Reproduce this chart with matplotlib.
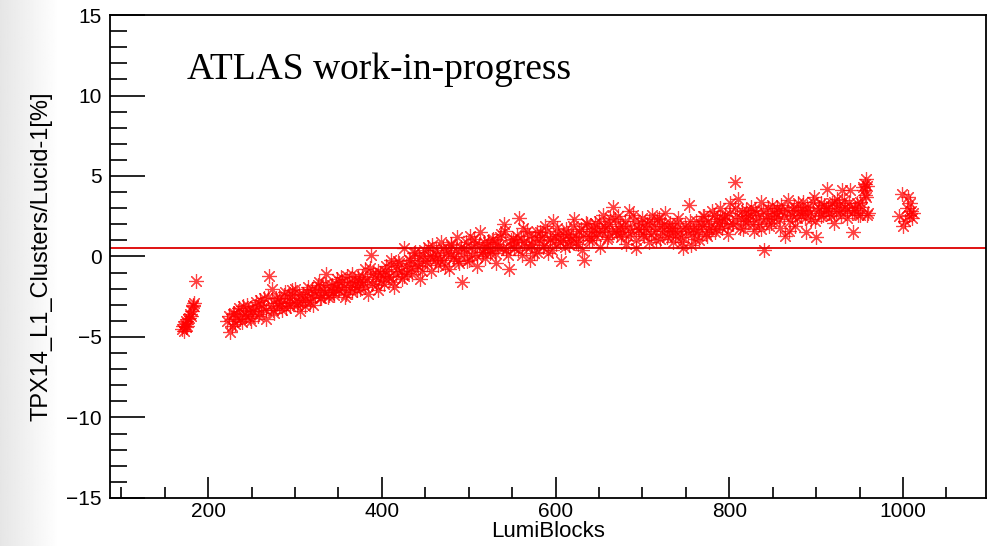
import numpy as np
import matplotlib
matplotlib.use("Agg")
import matplotlib.pyplot as plt
from matplotlib.ticker import MultipleLocator

plt.rcParams['font.family'] = ['Liberation Sans', 'DejaVu Sans']

# early fill, first lumiblocks
lb_early = [170, 171, 172, 173, 174, 175, 176, 177, 178, 179, 180, 181, 182, 183, 184, 186]
ratio_early = [-4.5, -4.3, -4.6, -4.2, -4.4, -4.0, -4.3, -3.9, -3.8, -3.6,
               -3.7, -3.4, -3.0, -3.1, -2.9, -1.5]

# main run, lumiblocks 222, 225, ... 960
lb_main = np.arange(222, 961, 3)
ratio_main = [
    -4.0, -4.7, -3.6, -4.2, -3.4, -3.9, -3.1, -3.7, -3.3, -4.0,
    -3.4, -2.8, -3.6, -3.0, -2.6, -3.3, -1.2, -2.0, -3.5, -2.9,
    -2.6, -3.3, -2.2, -2.9, -3.1, -2.4, -2.0, -2.8, -3.4, -2.3,
    -2.7, -1.9, -2.5, -3.0, -2.1, -1.6, -2.6, -2.2, -1.1, -2.4,
    -1.8, -2.4, -1.4, -2.1, -1.6, -2.5, -1.2, -1.9, -2.2, -1.5,
    -1.3, -2.0, -1.6, -0.8, -2.3, 0.1, -1.1, -1.8, -0.9, -1.5,
    -1.7, -0.6, -1.2, -0.2, -1.9, -0.8, -0.4, -1.4, 0.5, -1.0,
    -0.2, -1.1, 0.3, -0.6, -1.4, 0.1, -0.3, 0.6, -0.9, 0.0,
    0.4, -0.5, 0.9, -0.2, 0.2, -0.8, 0.7, 0.0, 1.2, -0.4,
    -1.6, 0.5, -0.3, 1.3, 0.1, 0.8, -0.6, 1.5, 0.3, -0.1,
    0.9, 0.2, 1.1, -0.4, 0.6, 1.4, 2.0, 0.4, -0.8, 1.0,
    0.5, 1.3, 2.4, 0.1, 0.9, 1.6, -0.2, 0.7, 1.2, 0.3,
    1.5, 0.6, 1.9, 0.2, 1.1, 2.2, 0.8, 1.4, -0.3, 1.0,
    1.7, 0.7, 1.2, 2.3, 0.9, 1.6, 0.4, -0.2, 2.0, 1.3,
    1.0, 2.1, 1.5, 0.6, 2.6, 1.8, 1.2, 2.4, 3.1, 1.6,
    2.5, 1.2, 1.9, 0.8, 2.8, 1.5, 2.2, 0.5, 1.7, 2.4,
    1.3, 2.0, 0.9, 2.6, 1.6, 2.3, 1.1, 1.9, 2.7, 1.4,
    2.1, 0.9, 1.6, 2.4, 1.2, 0.5, 1.8, 3.2, 0.7, 1.5,
    2.2, 1.0, 1.9, 2.5, 1.3, 1.7, 2.8, 1.5, 2.3, 3.0,
    1.8, 2.6, 1.4, 3.3, 2.0, 4.6, 3.6, 2.4, 1.7, 2.9,
    2.2, 3.1, 1.6, 2.7, 2.0, 3.4, 0.4, 2.5, 1.9, 3.2,
    2.4, 3.0, 1.8, 2.8, 1.3, 3.5, 2.2, 2.9, 1.9, 3.3,
    2.6, 3.4, 1.5, 2.9, 2.3, 3.7, 1.2, 3.0, 2.5, 3.2,
    4.2, 2.7, 3.3, 2.1, 3.6, 2.8, 4.1, 3.1, 2.4, 4.1,
    1.5, 3.0, 2.6, 3.4, 4.3, 4.8, 2.7,
]

# main run, lumiblocks 224, 227, ... 959
lb_main2 = np.arange(224, 960, 3)
ratio_main2 = [
    -3.7, -4.3, -3.5, -3.9, -3.2, -4.1, -3.6, -3.0, -3.8, -3.4,
    -3.1, -3.7, -2.7, -3.2, -3.9, -2.5, -3.0, -3.3, -2.6, -3.1,
    -2.9, -2.4, -3.2, -2.6, -2.1, -2.8, -3.0, -2.3, -2.7, -3.1,
    -2.2, -2.8, -2.0, -2.4, -1.8, -2.6, -2.1, -1.7, -2.5, -1.9,
    -2.2, -1.7, -2.0, -1.3, -1.9, -2.3, -1.6, -1.1, -1.8, -2.1,
    -1.6, -1.2, -1.9, -1.4, -0.7, -1.7, -1.3, -2.1, -1.0, -1.2,
    -0.9, -1.3, -0.5, -1.6, -1.1, -0.3, -0.9, -1.2, -0.6, -0.2,
    -0.7, 0.2, -0.5, -0.1, -0.9, 0.4, -0.4, 0.0, 0.7, -0.2,
    0.1, -0.2, 0.5, -0.6, 0.3, 0.8, -0.1, 0.4, -0.3, 0.6,
    0.2, 0.9, -0.2, 0.5, 1.1, 0.0, 0.7, 0.3, 0.9, 0.6,
    0.4, 1.0, 0.2, 0.8, 1.2, 0.5, 1.6, 0.1, 0.7, 1.1,
    0.9, 0.4, 1.1, 1.8, 0.6, 1.3, 0.8, 0.2, 1.5, 1.0,
    1.2, 0.7, 1.6, 1.0, 0.4, 1.3, 1.8, 0.9, 1.4, 0.6,
    1.4, 1.0, 1.9, 1.2, 0.8, 1.7, 1.3, 2.1, 1.0, 1.6,
    1.8, 1.3, 2.2, 1.5, 1.9, 1.1, 2.0, 1.6, 2.3, 1.4,
    1.9, 1.5, 2.2, 1.3, 1.8, 2.6, 1.0, 1.7, 2.1, 1.4,
    1.7, 2.2, 1.4, 1.9, 1.0, 2.4, 1.6, 2.0, 1.2, 1.8,
    1.8, 1.3, 2.1, 1.6, 0.9, 1.9, 1.4, 2.2, 1.7, 1.1,
    1.6, 2.0, 2.5, 1.4, 2.2, 1.9, 2.6, 1.7, 2.1, 2.4,
    2.3, 1.9, 2.7, 2.1, 3.0, 2.5, 1.8, 2.8, 2.2, 2.6,
    2.6, 2.0, 2.9, 2.4, 1.7, 2.8, 2.3, 3.0, 2.1, 2.7,
    2.7, 2.3, 3.2, 2.5, 2.9, 1.6, 2.6, 3.1, 2.4, 2.8,
    2.9, 2.4, 3.1, 2.7, 3.4, 2.2, 2.8, 3.3, 2.6, 3.0,
    3.0, 2.5, 3.4, 2.8, 3.2, 2.6, 3.5, 2.9, 3.3, 2.7,
    2.9, 3.3, 2.6, 3.1, 3.8, 2.6,
]

# end-of-run spike
lb_spike = [955, 956, 957, 958]
ratio_spike = [4.1, 4.5, 3.7, 4.4]

# second short block after the gap
lb_late = [995, 999, 1000, 1002, 1004, 1006, 1007, 1008, 1009, 1010, 1011]
ratio_late = [2.5, 3.9, 1.9, 2.2, 3.0, 3.7, 2.6, 3.3, 2.8, 2.4, 2.7]

mean_level = 0.55

fig = plt.figure(figsize=(9.96, 5.46), dpi=100)

# faint grey strip on the left edge of the slide
bg = fig.add_axes([0, 0, 1, 1], zorder=-10)
grad = np.linspace(0.90, 1.0, 60)
grad = np.concatenate([grad, np.ones(940)])
bg.imshow(np.tile(grad, (10, 1)), cmap='gray', vmin=0, vmax=1, aspect='auto',
          extent=[0, 1, 0, 1])
bg.axis('off')

ax = fig.add_axes([0.1105, 0.088, 0.879, 0.8845])

x_all = np.concatenate([lb_early, lb_main, lb_main2, lb_spike, lb_late])
y_all = np.concatenate([ratio_early, ratio_main, ratio_main2, ratio_spike, ratio_late])
ax.plot(x_all, y_all, linestyle='none', marker=(8, 2, 0), markersize=10.5,
        markeredgewidth=0.85, color='red', alpha=0.75)

ax.axhline(mean_level, color='#dd0000', linewidth=1.3)

ax.set_xlim(87, 1095)
ax.set_ylim(-15, 15)

ax.xaxis.set_major_locator(MultipleLocator(200))
ax.xaxis.set_minor_locator(MultipleLocator(50))
ax.yaxis.set_major_locator(MultipleLocator(5))
ax.yaxis.set_minor_locator(MultipleLocator(1))

ax.tick_params(axis='both', which='both', direction='in', top=False, right=False,
               width=1.2, labelsize=15, colors='black')
ax.tick_params(axis='x', which='major', length=15, pad=3)
ax.tick_params(axis='x', which='minor', length=8)
ax.tick_params(axis='y', which='major', length=25, pad=6)
ax.tick_params(axis='y', which='minor', length=12)

for s in ax.spines.values():
    s.set_linewidth(1.3)
    s.set_color('black')

ax.set_xlabel('LumiBlocks', fontsize=16, labelpad=0)
ax.set_ylabel('TPX14_L1_Clusters/Lucid-1[%]', fontsize=17, labelpad=10)

ax.text(0.088, 0.886, 'ATLAS work-in-progress', transform=ax.transAxes,
        fontsize=27, family=['Liberation Serif', 'DejaVu Serif'], va='center')

fig.savefig('out.png', dpi=100)
